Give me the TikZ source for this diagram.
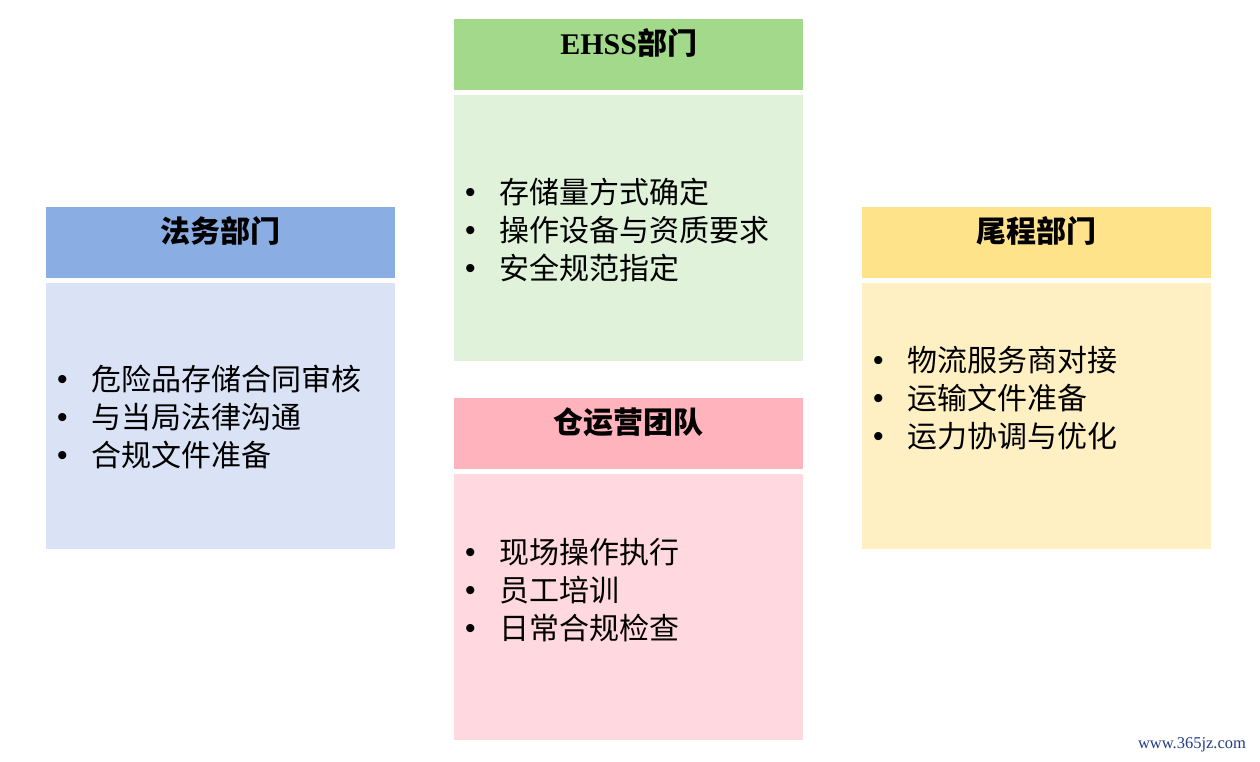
\documentclass[tikz,border=0pt]{standalone}
\usepackage{fontspec}
\setmainfont{Liberation Serif}
\newfontfamily\cjk{Noto Sans CJK SC}
\newfontfamily\dotfont{Liberation Sans}
\usetikzlibrary{positioning}
\definecolor{legalHead}{HTML}{8AADE4}
\definecolor{legalBody}{HTML}{DAE3F6}
\definecolor{ehssHead}{HTML}{A2D98A}
\definecolor{ehssBody}{HTML}{E0F2D9}
\definecolor{opsHead}{HTML}{FFB3BC}
\definecolor{opsBody}{HTML}{FFD9DF}
\definecolor{tailHead}{HTML}{FFE38A}
\definecolor{tailBody}{HTML}{FFF0C4}
\definecolor{markBlue}{HTML}{1F3C88}
\newcommand\itm{\makebox[34pt][l]{\dotfont\fontsize{30}{38}\selectfont\raisebox{1pt}{•}}}
\begin{document}
\begin{tikzpicture}[x=1pt, y=-1pt,
    head/.style={minimum width=349pt, minimum height=71pt, inner sep=0pt, anchor=north west},
    body/.style={minimum width=349pt, minimum height=266pt, inner sep=0pt, anchor=north west},
    title/.style={inner sep=0pt, font=\fontsize{30}{36}\selectfont\cjk\bfseries},
    items/.style={anchor=west, align=left, inner sep=0pt, font=\fontsize{30}{38}\selectfont\cjk}]
    \useasboundingbox (0, 0) rectangle (1260, 762);

    % boxes
    \node[head, fill=ehssHead] at (454, 19) (ehssH) {};
    \node[body, fill=ehssBody] at (454, 95) (ehssB) {};
    \node[head, fill=legalHead] at (46, 207) (legalH) {};
    \node[body, fill=legalBody] at (46, 283) (legalB) {};
    \node[head, fill=tailHead] at (862, 207) (tailH) {};
    \node[body, fill=tailBody] at (862, 283) (tailB) {};
    \node[head, fill=opsHead] at (454, 398) (opsH) {};
    \node[body, fill=opsBody] at (454, 474) (opsB) {};

    % titles
    \node[title] at ([yshift=-24pt]ehssH.north) (ehssT) {\bfseries\rmfamily EHSS\cjk\bfseries 部门};
    \node[title] at ([yshift=-24pt]legalH.north) (legalT) {法务部门};
    \node[title] at ([yshift=-24pt]tailH.north) (tailT) {尾程部门};
    \node[title] at ([yshift=-24pt]opsH.north) (opsT) {仓运营团队};

    % items
    \node[items] at ([xshift=11pt, yshift=-135pt]ehssB.north west) (ehssL)
        {\itm 存储量方式确定\\ \itm 操作设备与资质要求\\ \itm 安全规范指定};
    \node[items] at ([xshift=11pt, yshift=-134pt]legalB.north west) (legalL)
        {\itm 危险品存储合同审核\\ \itm 与当局法律沟通\\ \itm 合规文件准备};
    \node[items] at ([xshift=11pt, yshift=-115pt]tailB.north west) (tailL)
        {\itm 物流服务商对接\\ \itm 运输文件准备\\ \itm 运力协调与优化};
    \node[items] at ([xshift=11pt, yshift=-116pt]opsB.north west) (opsL)
        {\itm 现场操作执行\\ \itm 员工培训\\ \itm 日常合规检查};

    \node[markBlue, font=\fontsize{16.5}{20}\selectfont] at (1192, 745) (mark) {www.365jz.com};
\end{tikzpicture}
\end{document}
